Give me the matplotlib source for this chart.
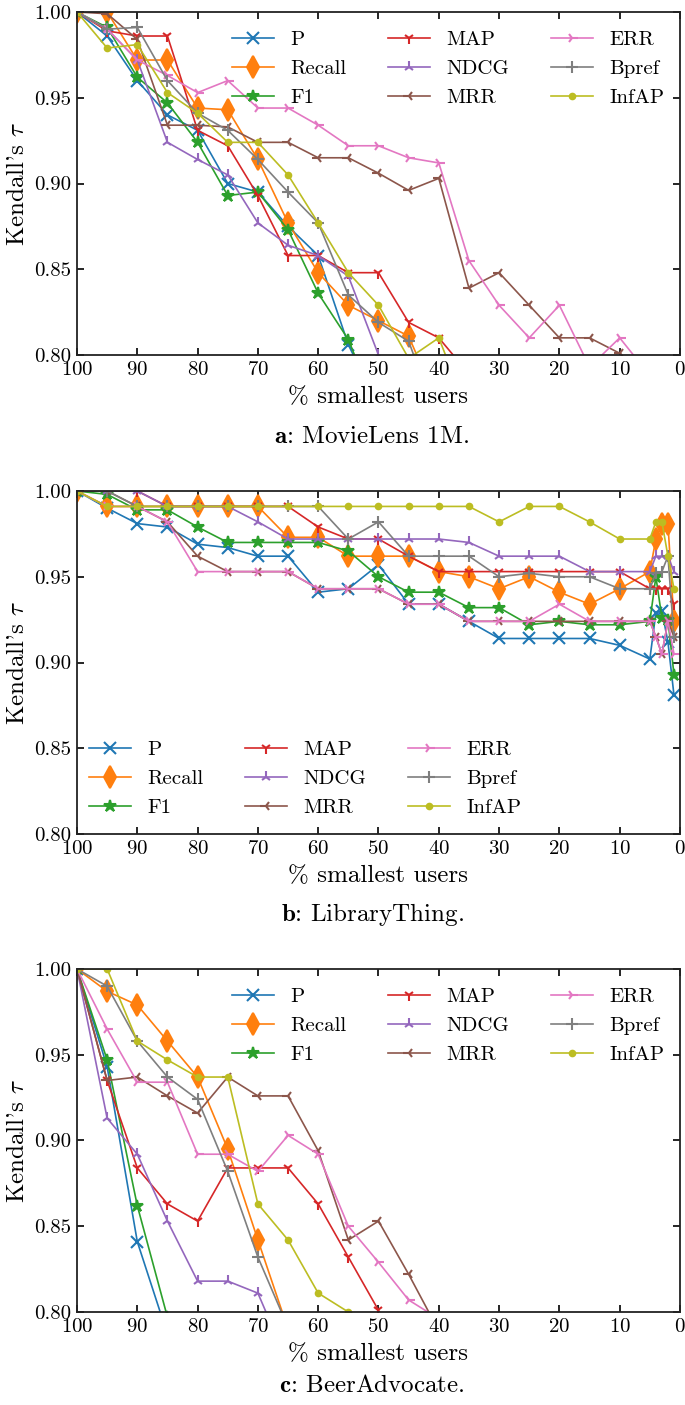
import matplotlib
matplotlib.use('Agg')
import matplotlib.pyplot as plt
from matplotlib.ticker import FormatStrFormatter, MultipleLocator

plt.rcParams['font.family'] = 'cmr10'
plt.rcParams['mathtext.fontset'] = 'cm'
plt.rcParams['axes.formatter.use_mathtext'] = True

# x positions (% smallest users)
x_a = [100, 95, 90, 85, 80, 75, 70, 65, 60, 55, 50, 45, 40, 35, 30, 25, 20, 15, 10, 5]
x_b = [100, 95, 90, 85, 80, 75, 70, 65, 60, 55, 50, 45, 40, 35, 30, 25, 20, 15, 10, 5, 4, 3, 2, 1]
x_c = x_a

# a: MovieLens 1M
ml_p = [1.00, 0.986, 0.960, 0.940, 0.931, 0.900, 0.895, 0.875, 0.858, 0.806, 0.77]
ml_recall = [1.00, 1.00, 0.972, 0.972, 0.944, 0.943, 0.914, 0.877, 0.848, 0.829, 0.820, 0.811, 0.77]
ml_f1 = [1.00, 0.991, 0.962, 0.947, 0.924, 0.893, 0.895, 0.873, 0.836, 0.809, 0.765]
ml_map = [1.00, 0.989, 0.986, 0.986, 0.931, 0.922, 0.893, 0.858, 0.858, 0.848, 0.848, 0.819, 0.810, 0.789]
ml_ndcg = [1.00, 0.990, 0.972, 0.924, 0.914, 0.905, 0.877, 0.864, 0.858, 0.846, 0.800, 0.77]
ml_mrr = [1.00, 0.999, 0.984, 0.934, 0.934, 0.933, 0.924, 0.924, 0.915, 0.915, 0.906, 0.896,
          0.903, 0.839, 0.848, 0.829, 0.810, 0.810, 0.801, 0.78]
ml_err = [1.00, 0.990, 0.972, 0.963, 0.953, 0.960, 0.944, 0.944, 0.934, 0.922, 0.922, 0.915,
          0.912, 0.855, 0.829, 0.810, 0.829, 0.793, 0.810, 0.788]
ml_bpref = [1.00, 0.990, 0.991, 0.960, 0.941, 0.931, 0.914, 0.895, 0.877, 0.835, 0.819, 0.808, 0.76]
ml_infap = [1.00, 0.979, 0.981, 0.953, 0.941, 0.924, 0.924, 0.905, 0.877, 0.848, 0.829, 0.798, 0.810, 0.765]

# b: LibraryThing
lt_p = [1.00, 0.990, 0.981, 0.979, 0.969, 0.967, 0.962, 0.962, 0.941, 0.943, 0.957, 0.934,
        0.934, 0.924, 0.914, 0.914, 0.914, 0.914, 0.910, 0.902, 0.929, 0.930, 0.912, 0.881]
lt_recall = [1.00, 0.991, 0.991, 0.991, 0.991, 0.991, 0.991, 0.973, 0.973, 0.962, 0.962, 0.962,
             0.953, 0.950, 0.943, 0.950, 0.941, 0.934, 0.943, 0.953, 0.972, 0.981, 0.981, 0.924]
lt_f1 = [1.00, 0.998, 0.989, 0.989, 0.979, 0.970, 0.970, 0.970, 0.970, 0.965, 0.950, 0.941,
         0.941, 0.932, 0.932, 0.922, 0.924, 0.922, 0.922, 0.924, 0.950, 0.926, 0.925, 0.893]
lt_map = [1.00, 1.00, 1.00, 0.991, 0.991, 0.991, 0.991, 0.991, 0.979, 0.972, 0.972, 0.962,
          0.953, 0.953, 0.953, 0.953, 0.953, 0.953, 0.953, 0.943, 0.943, 0.943, 0.943, 0.934]
lt_ndcg = [1.00, 1.00, 1.00, 0.991, 0.991, 0.991, 0.982, 0.972, 0.972, 0.972, 0.972, 0.972,
           0.972, 0.970, 0.962, 0.962, 0.962, 0.953, 0.953, 0.953, 0.962, 0.962, 0.962, 0.953]
lt_mrr = [1.00, 1.00, 0.991, 0.982, 0.962, 0.953, 0.953, 0.953, 0.943, 0.943, 0.943, 0.934,
          0.934, 0.924, 0.924, 0.924, 0.924, 0.924, 0.924, 0.924, 0.915, 0.905, 0.924, 0.915]
lt_err = [1.00, 0.991, 0.991, 0.982, 0.953, 0.953, 0.953, 0.953, 0.943, 0.943, 0.943, 0.934,
          0.934, 0.924, 0.924, 0.924, 0.934, 0.924, 0.924, 0.924, 0.915, 0.905, 0.924, 0.905]
lt_bpref = [1.00, 1.00, 0.991, 0.991, 0.991, 0.991, 0.991, 0.991, 0.991, 0.972, 0.982, 0.962,
            0.962, 0.962, 0.950, 0.952, 0.950, 0.950, 0.943, 0.943, 0.952, 0.953, 0.962, 0.915]
lt_infap = [1.00, 0.991, 0.991, 0.991, 0.991, 0.991, 0.991, 0.991, 0.991, 0.991, 0.991, 0.991,
            0.991, 0.991, 0.982, 0.991, 0.991, 0.982, 0.972, 0.972, 0.982, 0.982, 0.962, 0.943]

# c: BeerAdvocate
ba_p = [1.00, 0.943, 0.841, 0.787]
ba_recall = [1.00, 0.987, 0.979, 0.958, 0.937, 0.895, 0.842, 0.79]
ba_f1 = [1.00, 0.947, 0.862, 0.797]
ba_map = [1.00, 0.935, 0.884, 0.863, 0.853, 0.884, 0.884, 0.884, 0.863, 0.832, 0.801, 0.77]
ba_ndcg = [1.00, 0.913, 0.892, 0.853, 0.818, 0.818, 0.811, 0.77]
ba_mrr = [1.00, 0.935, 0.937, 0.926, 0.916, 0.937, 0.926, 0.926, 0.894, 0.842, 0.853, 0.822, 0.789]
ba_err = [1.00, 0.965, 0.934, 0.934, 0.892, 0.892, 0.882, 0.903, 0.892, 0.850, 0.829, 0.807, 0.796]
ba_bpref = [1.00, 0.990, 0.958, 0.937, 0.924, 0.882, 0.832, 0.791]
ba_infap = [1.00, 1.00, 0.958, 0.947, 0.937, 0.937, 0.863, 0.842, 0.811, 0.800, 0.77]

labels = ['P', 'Recall', 'F1', 'MAP', 'NDCG', 'MRR', 'ERR', 'Bpref', 'InfAP']
markers = ['x', 'd', '*', '1', '2', '3', '4', '+', '.']
msizes = [8, 11, 9, 8, 8, 8, 8, 9, 8]
colors = ['tab:blue', 'tab:orange', 'tab:green', 'tab:red', 'tab:purple',
          'tab:brown', 'tab:pink', 'tab:gray', 'tab:olive']

panels = [
    (x_a, [ml_p, ml_recall, ml_f1, ml_map, ml_ndcg, ml_mrr, ml_err, ml_bpref, ml_infap],
     r'$\mathbf{a}$: MovieLens 1M.', 12, 425),
    (x_b, [lt_p, lt_recall, lt_f1, lt_map, lt_ndcg, lt_mrr, lt_err, lt_bpref, lt_infap],
     r'$\mathbf{b}$: LibraryThing.', 491, 424),
    (x_c, [ba_p, ba_recall, ba_f1, ba_map, ba_ndcg, ba_mrr, ba_err, ba_bpref, ba_infap],
     r'$\mathbf{c}$: BeerAdvocate.', 969, 417),
]

W, H = 685, 1405
fig = plt.figure(figsize=(W / 100, H / 100), dpi=100)

for i, (xs, series, caption, top, cap_off) in enumerate(panels):
    ax = fig.add_axes([77 / W, 1 - (top + 343) / H, 603 / W, 343 / H])
    for vals, lab, m, ms, c in zip(series, labels, markers, msizes, colors):
        ax.plot(xs[:len(vals)], vals, marker=m, markersize=ms, color=c, label=lab,
                linewidth=1.2, markeredgewidth=1.5)
    ax.set_xlim(100, 0)
    ax.set_ylim(0.80, 1.00)
    ax.xaxis.set_major_locator(MultipleLocator(10))
    ax.yaxis.set_major_locator(MultipleLocator(0.05))
    ax.yaxis.set_major_formatter(FormatStrFormatter('%.2f'))
    ax.tick_params(direction='in', top=True, right=True, length=5, width=1.2,
                   labelsize=15, pad=4)
    for sp in ax.spines.values():
        sp.set_linewidth(1.3)
        sp.set_color('#222222')
    ax.set_xlabel('% smallest users', fontsize=18, labelpad=5)
    ax.set_ylabel(r"Kendall's $\tau$", fontsize=18, labelpad=4)
    if i == 1:
        ax.legend(loc='lower left', bbox_to_anchor=(0.02, 0.05), ncol=3, frameon=False,
                  fontsize=15, handlelength=2.0, handletextpad=0.8, columnspacing=2.0,
                  labelspacing=0.5, borderpad=0, borderaxespad=0)
    else:
        ax.legend(loc='upper left', bbox_to_anchor=(0.257, 0.946), ncol=3, frameon=False,
                  fontsize=15, handlelength=2.0, handletextpad=0.8, columnspacing=2.0,
                  labelspacing=0.5, borderpad=0, borderaxespad=0)
    fig.text(372 / W, 1 - (top + cap_off) / H, caption, ha='center', va='center', fontsize=18)

fig.savefig('out.png', dpi=100)
